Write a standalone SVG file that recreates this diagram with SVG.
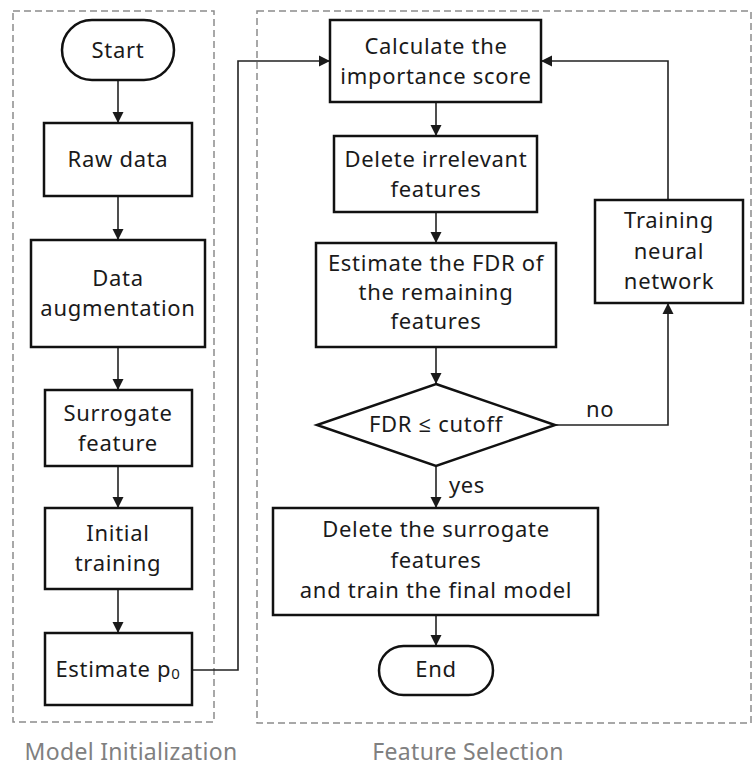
<svg xmlns="http://www.w3.org/2000/svg" width="753" height="768" viewBox="0 0 753 768">
<defs>
<marker id="ah" markerUnits="userSpaceOnUse" markerWidth="12" markerHeight="12" viewBox="0 0 12 12" refX="11" refY="6" orient="auto">
<path d="M0,0.5 L11,6 L0,11.5 Z" fill="#1a1a1a"/>
</marker>
<style>
.box{fill:#fff;stroke:#111;stroke-width:2.5}
.t{font-family:"Noto Sans","Open Sans",sans-serif;font-size:22px;letter-spacing:0.7px;fill:#1a1a1a;text-anchor:middle}
.lbl{font-family:"Noto Sans","Open Sans",sans-serif;font-size:22px;letter-spacing:0.6px;fill:#1a1a1a}
.grp{fill:none;stroke:#8c8c8c;stroke-width:1.5;stroke-dasharray:7 4}
.cap{font-family:"Noto Sans","Open Sans",sans-serif;font-size:23px;letter-spacing:0.3px;fill:#808080;text-anchor:middle}
.c{fill:none;stroke:#222;stroke-width:1.6;marker-end:url(#ah)}
</style>
</defs>
<rect width="753" height="768" fill="#fff"/>
<g id="groups">
<rect class="grp" x="13" y="11" width="201" height="711"/>
<rect class="grp" x="257" y="11" width="494" height="712"/>
<text class="cap" x="131" y="760">Model Initialization</text>
<text class="cap" x="468" y="760">Feature Selection</text>
</g>
<g id="connectors">
<path class="c" d="M118,80 V123"/>
<path class="c" d="M118,196 V240"/>
<path class="c" d="M118,347 V390"/>
<path class="c" d="M118,466 V508"/>
<path class="c" d="M118,589 V633"/>
<path class="c" d="M192,670 H238 V61 H330"/>
<path class="c" d="M436,102 V136"/>
<path class="c" d="M436,212 V243"/>
<path class="c" d="M436,347 V384"/>
<path class="c" d="M436,466 V508"/>
<path class="c" d="M436,615 V646"/>
<path class="c" d="M555,425 H668 V303"/>
<path class="c" d="M668,200 V61 H541"/>
<text class="lbl" x="449" y="493">yes</text>
<text class="lbl" x="586" y="417">no</text>
</g>
<g id="start">
<rect class="box" x="62" y="20" width="112" height="60" rx="30" ry="30"/>
<text class="t" x="118" y="58">Start</text>
</g>
<g id="raw">
<rect class="box" x="44" y="123" width="148" height="73"/>
<text class="t" x="118" y="167">Raw data</text>
</g>
<g id="aug">
<rect class="box" x="31" y="240" width="174" height="107"/>
<text class="t" x="118" y="286">Data</text>
<text class="t" x="118" y="316">augmentation</text>
</g>
<g id="surrogate">
<rect class="box" x="45" y="390" width="147" height="76"/>
<text class="t" x="118" y="421">Surrogate</text>
<text class="t" x="118" y="451">feature</text>
</g>
<g id="initial">
<rect class="box" x="45" y="508" width="147" height="81"/>
<text class="t" x="118" y="541">Initial</text>
<text class="t" x="118" y="571">training</text>
</g>
<g id="estp0">
<rect class="box" x="45" y="633" width="147" height="72"/>
<text class="t" x="118" y="677">Estimate p<tspan font-size="15" dy="2">0</tspan></text>
</g>
<g id="calc">
<rect class="box" x="330" y="20" width="211" height="82"/>
<text class="t" x="436" y="54">Calculate the</text>
<text class="t" x="436" y="84">importance score</text>
</g>
<g id="delete">
<rect class="box" x="334" y="136" width="203" height="76"/>
<text class="t" x="436" y="167">Delete irrelevant</text>
<text class="t" x="436" y="197">features</text>
</g>
<g id="fdr">
<rect class="box" x="316" y="243" width="240" height="104"/>
<text class="t" x="436" y="271">Estimate the FDR of</text>
<text class="t" x="436" y="300">the remaining</text>
<text class="t" x="436" y="329">features</text>
</g>
<g id="decision">
<polygon class="box" points="436,384 555,425 436,466 317,425"/>
<text class="t" x="436" y="432">FDR ≤ cutoff</text>
</g>
<g id="final">
<rect class="box" x="273" y="508" width="325" height="107"/>
<text class="t" x="436" y="537">Delete the surrogate</text>
<text class="t" x="436" y="568">features</text>
<text class="t" x="436" y="598">and train the final model</text>
</g>
<g id="end">
<rect class="box" x="379" y="646" width="114" height="49" rx="24.5" ry="24.5"/>
<text class="t" x="436" y="677">End</text>
</g>
<g id="training">
<rect class="box" x="595" y="200" width="148" height="103"/>
<text class="t" x="669" y="228">Training</text>
<text class="t" x="669" y="259">neural</text>
<text class="t" x="669" y="289">network</text>
</g>
</svg>
